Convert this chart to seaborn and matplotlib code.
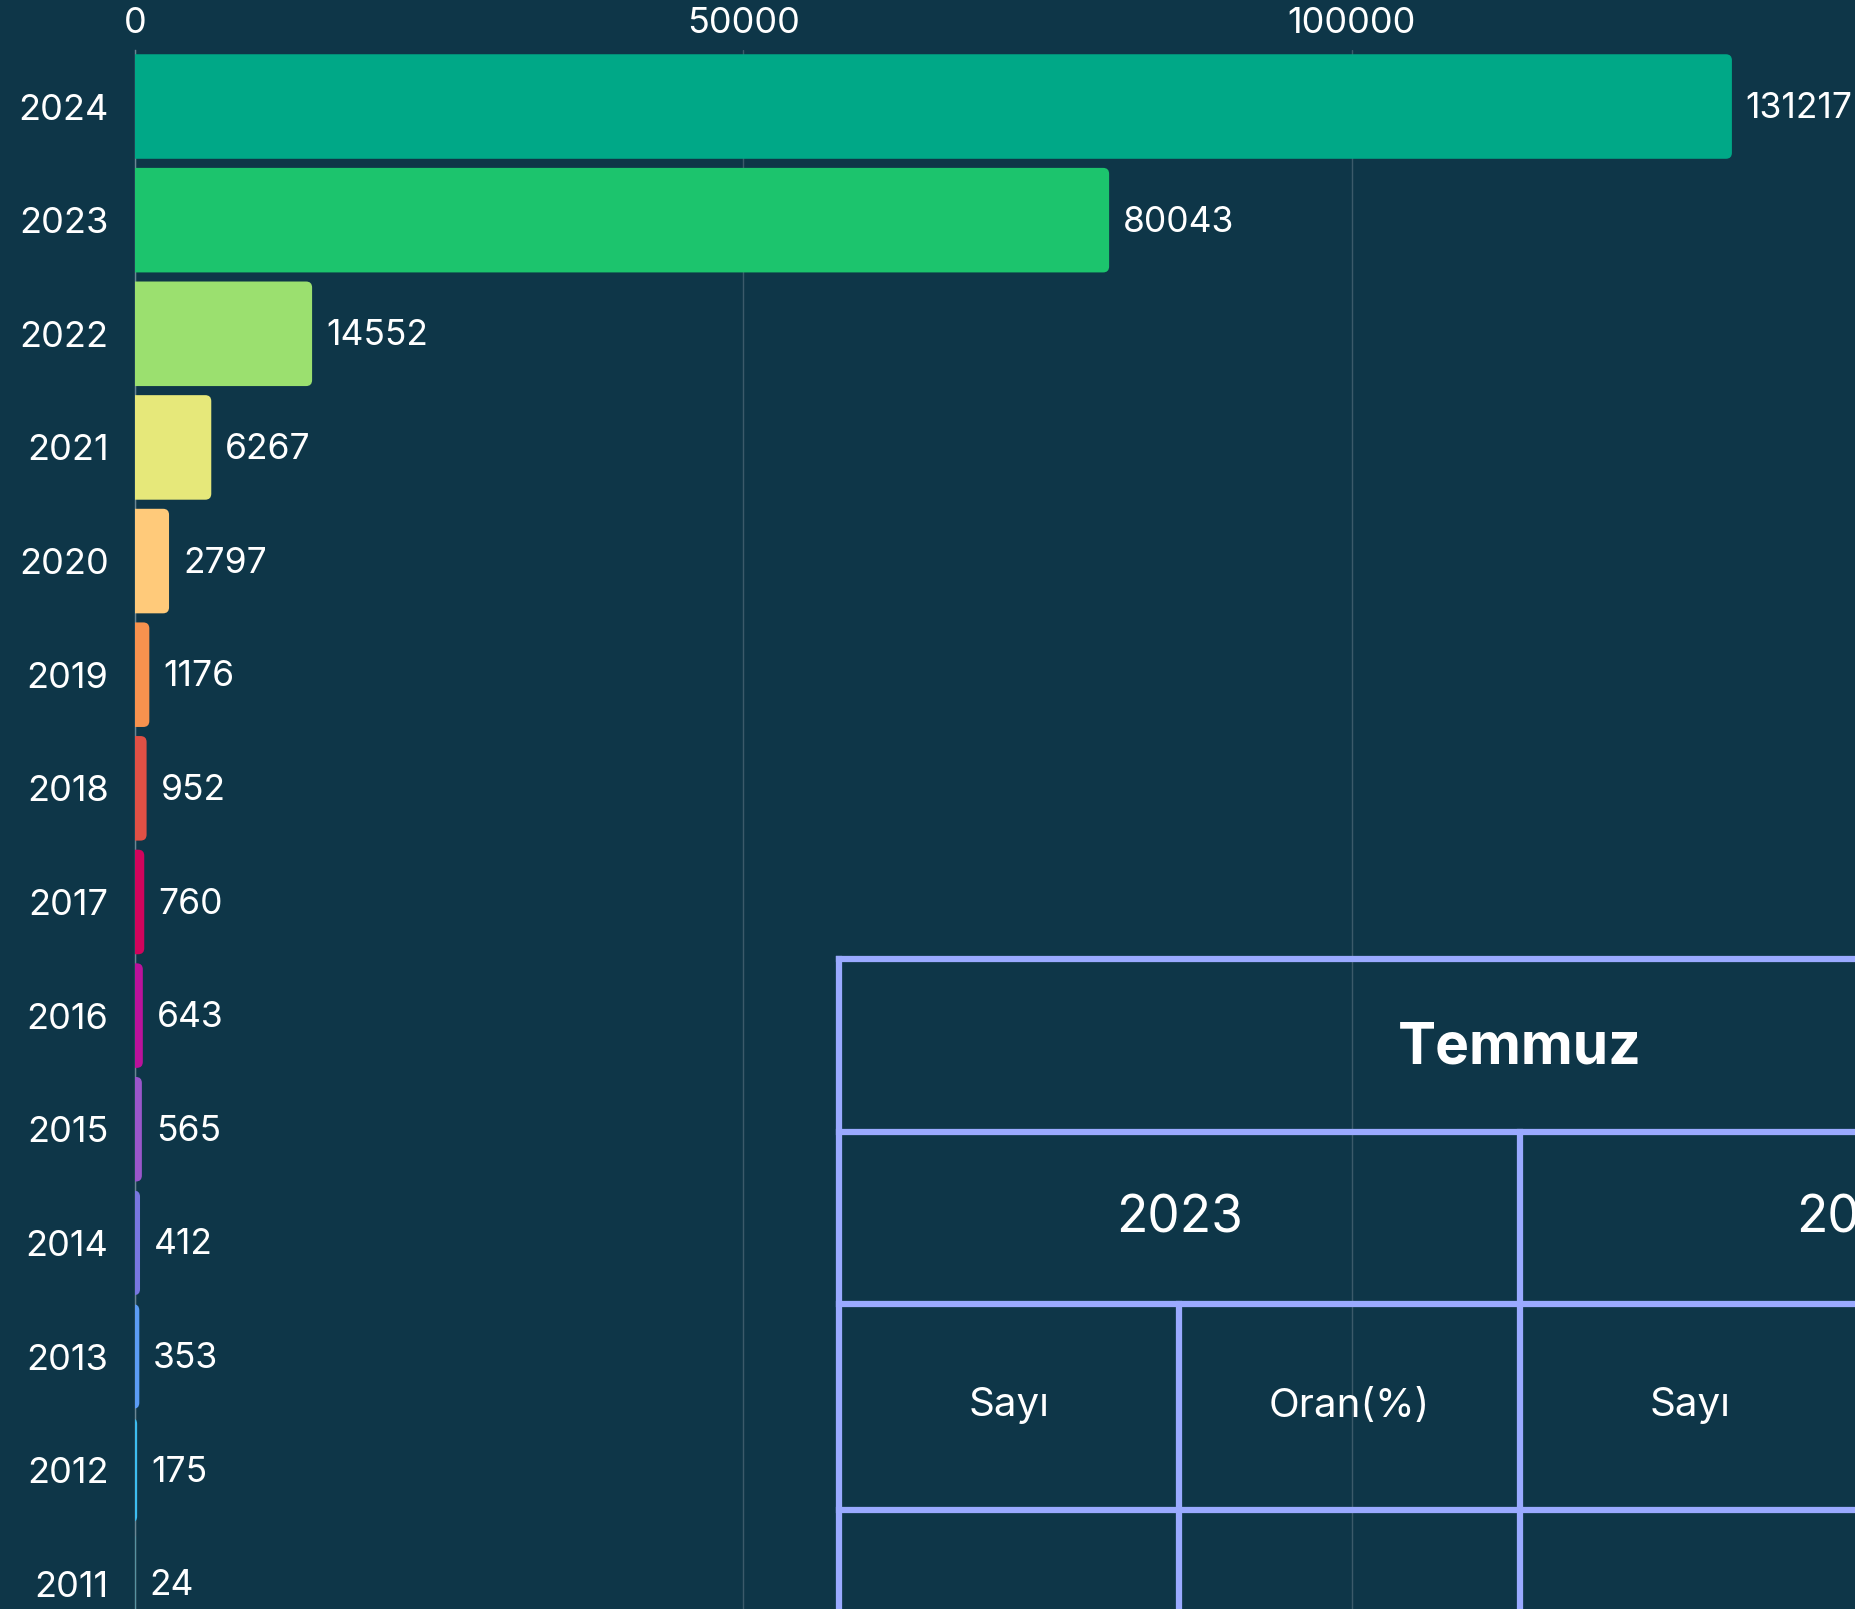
import pandas as pd
import seaborn as sns
import matplotlib.pyplot as plt
from matplotlib.patches import FancyBboxPatch

# Yearly counts (bars, top to bottom)
years = ["2024", "2023", "2022", "2021", "2020", "2019", "2018",
         "2017", "2016", "2015", "2014", "2013", "2012", "2011"]
counts = [131217, 80043, 14552, 6267, 2797, 1176, 952,
          760, 643, 565, 412, 353, 175, 24]
bar_colors = ["#00a887", "#1cc46d", "#9be06f", "#e6e87a", "#ffca7a", "#f7924e", "#e05045",
              "#d1045c", "#bb129b", "#9a56cb", "#7877e0", "#5b9cf4", "#3dbdf0", "#2ab0bf"]
x_ticks = [0, 50000, 100000]

# Table texts (partly cut off in the original picture)
table_title = "Temmuz"
table_years = ["2023", "2024"]
table_cols = ["Sayı", "Oran(%)"]

BG = "#0e3648"
LINE = "#9aaaff"

sns.set_theme(style="dark")
plt.rcParams["font.family"] = ["Inter", "DejaVu Sans"]

df = pd.DataFrame({"year": years, "count": counts})

fig = plt.figure(figsize=(18.56, 16.09), dpi=100)
fig.patch.set_facecolor(BG)
W, H = 1856, 1609
ax = fig.add_axes([135 / W, (H - 1640.6) / H, 1 - 135 / W, 1590.9 / H])
ax.set_facecolor(BG)

sns.barplot(data=df, x="count", y="year", hue="year", order=years, hue_order=years,
            palette=bar_colors, saturation=1, orient="h", width=0.92, legend=False,
            ax=ax, zorder=2)

x_max = (W - 135) / 0.01217
ax.set_xlim(0, x_max)
ax.set_ylim(len(years) - 0.5, -0.5)

# value labels
for c in ax.containers:
    anns = ax.bar_label(c, labels=[f"{int(v)}" for v in c.datavalues], padding=10,
                        color="white", fontsize=25.5)
    for a in anns:
        a.xyann = (a.xyann[0], -1.5)

# round the right corners of bars
px_x = x_max / (W - 135)
px_y = 1 / 113.6
r = 6
for p in list(ax.patches):
    x0, y0, w, h = p.get_x(), p.get_y(), p.get_width(), p.get_height()
    fb = FancyBboxPatch((x0 - 10 * r * px_x, y0), w + 10 * r * px_x, h,
                        boxstyle=f"round,pad=0,rounding_size={r * px_x}",
                        mutation_aspect=px_y / px_x,
                        facecolor=p.get_facecolor(), edgecolor="none", zorder=2)
    p.remove()
    ax.add_patch(fb)

ax.xaxis.tick_top()
ax.set_xticks(x_ticks)
ax.set_xticklabels([str(t) for t in x_ticks])
ax.tick_params(axis="x", colors="white", labelsize=26, length=0, pad=7)
ax.tick_params(axis="y", colors="white", labelsize=26, length=0, pad=19)
ax.set_xlabel("")
ax.set_ylabel("")
ax.grid(axis="x", color="#3c5a6a", linewidth=1, zorder=0)
ax.grid(axis="y", visible=False)
for s in ["top", "right", "bottom"]:
    ax.spines[s].set_visible(False)
ax.spines["left"].set_color("#6b8794")
ax.spines["left"].set_linewidth(1)
ax.spines["left"].set_zorder(1)

# overlay table in pixel coordinates
tx = fig.add_axes([0, 0, 1, 1], facecolor="none")
tx.set_xlim(0, W)
tx.set_ylim(H, 0)
tx.axis("off")
lw = 4.5
left, col = 839, 340.5
rows = [959, 1132, 1304, 1510]
for y in rows:
    tx.plot([left, W + 10], [y, y], color=LINE, lw=lw, solid_capstyle="projecting")
tx.plot([left, left], [rows[0], H + 10], color=LINE, lw=lw, solid_capstyle="projecting")
for k in range(1, 4):
    xs = left + k * col
    top = rows[1] if k % 2 == 0 else rows[2]
    tx.plot([xs, xs], [top, H + 10], color=LINE, lw=lw, solid_capstyle="projecting")

tx.text(left + 2 * col, 1048, table_title, color="white", fontsize=41,
        fontweight="bold", ha="center", va="center")
for i, yr in enumerate(table_years):
    tx.text(left + col + i * 2 * col, 1219, yr, color="white", fontsize=37,
            ha="center", va="center")
    for j, name in enumerate(table_cols):
        tx.text(left + col / 2 + (2 * i + j) * col, 1406, name, color="white",
                fontsize=29, ha="center", va="center")

fig.savefig("out.png", dpi=100, facecolor=BG)
